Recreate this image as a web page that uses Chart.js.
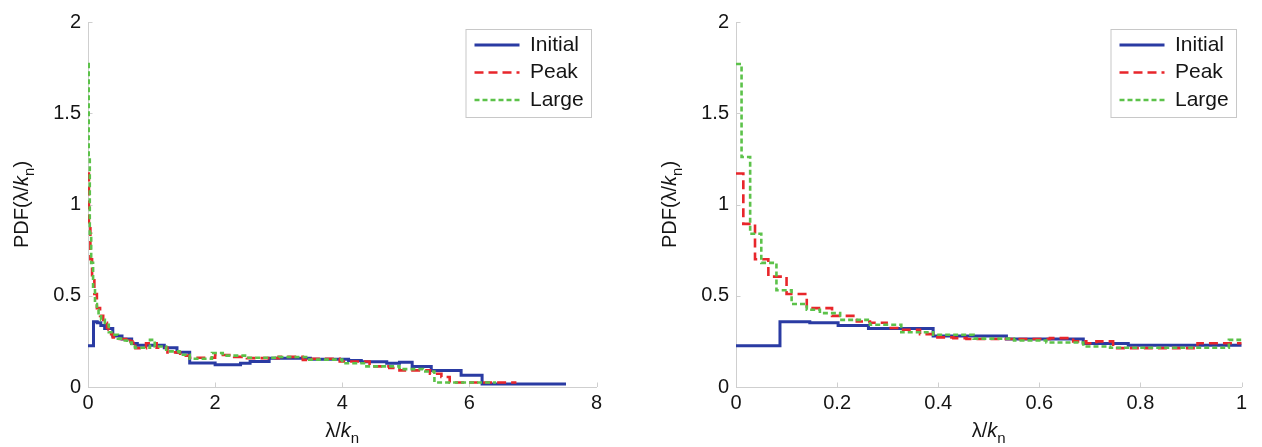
<!DOCTYPE html>
<html>
<head>
<meta charset="utf-8">
<script src="https://cdn.jsdelivr.net/npm/chart.js@4.4.1/dist/chart.umd.min.js"></script>
<style>
    html, body { margin: 0; padding: 0; background: #fff; }
    #wrap { position: relative; width: 1262px; height: 447px; overflow: hidden; }
    canvas { position: absolute; top: 0; }
    #left { left: 0; }
    #right { left: 631px; }
</style>
</head>
<body>
<div id="wrap">
    <canvas id="left" width="631" height="447"></canvas>
    <canvas id="right" width="631" height="447"></canvas>
</div>
<script>
// Histogram steps: bin left edges (x) and heights (y); last point closes the last bin
const initialX = [0, 0.087, 0.146, 0.202, 0.262, 0.39, 0.535, 0.687, 0.776, 1.2, 1.4, 1.6, 2.0, 2.4, 2.55, 2.85, 3.5, 4.1, 4.3, 4.7, 4.9, 5.1, 5.4, 5.87, 6.2, 7.52];
const initialY = [0.226, 0.357, 0.352, 0.337, 0.321, 0.28, 0.263, 0.238, 0.229, 0.215, 0.19, 0.131, 0.122, 0.13, 0.14, 0.158, 0.152, 0.145, 0.138, 0.13, 0.135, 0.113, 0.091, 0.065, 0.016, 0.016];

const peakX = [0, 0.0145, 0.0376, 0.064, 0.1, 0.14, 0.19, 0.239, 0.265, 0.298, 0.324, 0.364, 0.39, 0.43, 0.456, 0.621, 0.667, 0.693, 0.713, 0.746, 0.913, 1.08, 1.25, 1.45, 1.6, 2.0, 2.3, 2.5, 3.0, 3.38, 3.48, 3.96, 4.43, 4.74, 4.9, 5.38, 5.56, 5.69, 6.74];
const peakY = [1.17, 0.894, 0.70, 0.605, 0.51, 0.432, 0.39, 0.359, 0.352, 0.323, 0.314, 0.29, 0.272, 0.268, 0.263, 0.268, 0.25, 0.24, 0.25, 0.213, 0.24, 0.215, 0.19, 0.172, 0.16, 0.175, 0.165, 0.158, 0.165, 0.148, 0.155, 0.14, 0.113, 0.104, 0.091, 0.073, 0.055, 0.025, 0.025];

const largeX = [0, 0.011, 0.028, 0.05, 0.08, 0.11, 0.14, 0.166, 0.206, 0.265, 0.327, 0.39, 0.47, 0.55, 0.614, 0.687, 0.74, 0.975, 1.05, 1.23, 1.44, 1.6, 1.95, 2.12, 2.5, 3.0, 3.48, 4.0, 4.38, 4.9, 5.27, 5.45, 6.42];
const largeY = [1.77, 1.26, 0.84, 0.68, 0.53, 0.455, 0.423, 0.405, 0.368, 0.341, 0.30, 0.286, 0.265, 0.255, 0.244, 0.222, 0.215, 0.258, 0.222, 0.195, 0.177, 0.155, 0.186, 0.172, 0.16, 0.164, 0.15, 0.13, 0.113, 0.098, 0.085, 0.025, 0.025];

const seriesNames = ['Initial', 'Peak', 'Large'];

// Tick values and labels
const yTicks = [0, 0.5, 1, 1.5, 2];
const yLabels = ['0', '0.5', '1', '1.5', '2'];
const leftXTicks = [0, 2, 4, 6, 8];
const leftXLabels = ['0', '2', '4', '6', '8'];
const rightXTicks = [0, 0.2, 0.4, 0.6, 0.8, 1];
const rightXLabels = ['0', '0.2', '0.4', '0.6', '0.8', '1'];

// Axis titles (k italic, n subscript)
const yTitleParts = [{ t: 'PDF(\u03bb/' }, { t: 'k', it: true }, { t: 'n', sub: true }, { t: ')' }];
const xTitleParts = [{ t: '\u03bb/' }, { t: 'k', it: true }, { t: 'n', sub: true }];

const FONT = '"Liberation Sans", Arial, sans-serif';
const TEXT = '#151515';
const AXIS_COLOR = '#cfcfcf';
const TICK_LEN = 4.5;
const FRAME_W = 125.5;

Chart.defaults.font.family = FONT;
Chart.defaults.color = TEXT;

function toPoints(xs, ys) {
    return xs.map((x, i) => ({ x: x, y: ys[i] }));
}

function partFont(p) {
    return (p.it ? 'italic ' : '') + (p.sub ? 15 : 20) + 'px ' + FONT;
}

function drawRich(ctx, parts, cx, baseline) {
    let total = 0;
    parts.forEach(p => { ctx.font = partFont(p); total += ctx.measureText(p.t).width; });
    let x = cx - total / 2;
    parts.forEach(p => {
        ctx.font = partFont(p);
        ctx.fillText(p.t, x, baseline + (p.sub ? 6 : 0));
        x += ctx.measureText(p.t).width;
    });
}

// MATLAB-like extras: inward tick marks, rich axis titles, legend frame
const matlabLook = {
    id: 'matlabLook',
    afterLayout(chart) {
        // put the legend inside the plot, top right
        const lg = chart.legend, a = chart.chartArea;
        const left = a.right - 6 - FRAME_W + 3;
        lg.left = left; lg.right = left + FRAME_W;
        lg.top = 28; lg.bottom = 28 + 200;
        lg.width = FRAME_W; lg.height = 200;
    },
    beforeDatasetsDraw(chart) {
        const { ctx, chartArea: a, scales: { x, y } } = chart;
        ctx.save();
        ctx.strokeStyle = AXIS_COLOR;
        ctx.lineWidth = 1;
        ctx.beginPath();
        x.ticks.forEach(t => {
            const px = Math.round(x.getPixelForValue(t.value)) + 0.5;
            ctx.moveTo(px, a.bottom);
            ctx.lineTo(px, a.bottom - TICK_LEN);
        });
        y.ticks.forEach(t => {
            const py = Math.round(y.getPixelForValue(t.value)) + 0.5;
            ctx.moveTo(a.left, py);
            ctx.lineTo(a.left + TICK_LEN, py);
        });
        ctx.stroke();

        // legend frame
        const fr = Math.round(a.right - 6) + 0.5;
        ctx.strokeStyle = '#c8c8c8';
        ctx.strokeRect(fr - FRAME_W, 29.5, FRAME_W, 88);

        // axis titles
        ctx.fillStyle = TEXT;
        ctx.textBaseline = 'alphabetic';
        ctx.textAlign = 'left';
        drawRich(ctx, xTitleParts, (a.left + a.right) / 2, a.bottom + 49.7);
        ctx.translate(a.left - 60, (a.top + a.bottom) / 2);
        ctx.rotate(-Math.PI / 2);
        drawRich(ctx, yTitleParts, 0, 0);
        ctx.restore();
    }
};

function makeChart(id, xMax, xTicks, xLabels, yAxisWidth, rightPad) {
    const ctx = document.getElementById(id).getContext('2d');
    return new Chart(ctx, {
        type: 'line',
        data: {
            datasets: [
                {
                    label: seriesNames[0],
                    data: toPoints(initialX, initialY),
                    borderColor: '#2a3ba3',
                    borderWidth: 3,
                    borderDash: [],
                    order: 3
                },
                {
                    label: seriesNames[1],
                    data: toPoints(peakX, peakY),
                    borderColor: '#e8262b',
                    borderWidth: 2.6,
                    borderDash: [9, 5],
                    order: 2
                },
                {
                    label: seriesNames[2],
                    data: toPoints(largeX, largeY),
                    borderColor: '#5cc24a',
                    borderWidth: 2.6,
                    borderDash: [5, 3],
                    order: 1
                }
            ].map(ds => Object.assign(ds, {
                // horizontal run at each bin height, then the vertical jump
                stepped: 'before',
                pointRadius: 0,
                fill: false,
                tension: 0,
                borderJoinStyle: 'miter'
            }))
        },
        options: {
            responsive: false,
            animation: false,
            devicePixelRatio: 1,
            layout: { padding: { left: 0, top: 22, right: rightPad, bottom: 0 } },
            plugins: {
                tooltip: { enabled: false },
                legend: {
                    position: 'chartArea',
                    align: 'start',
                    labels: {
                        usePointStyle: true,
                        pointStyleWidth: 45,
                        padding: 6.5,
                        color: TEXT,
                        font: { size: 21 },
                        generateLabels: chart => chart.data.datasets.map((ds, i) => ({
                            text: ds.label,
                            fillStyle: ds.borderColor,
                            strokeStyle: ds.borderColor,
                            fontColor: TEXT,
                            lineWidth: ds.borderWidth,
                            lineDash: ds.borderDash,
                            pointStyle: 'line',
                            hidden: false,
                            datasetIndex: i
                        }))
                    }
                }
            },
            scales: {
                x: {
                    type: 'linear',
                    min: 0,
                    max: xMax,
                    grid: { display: false, drawTicks: false },
                    border: { display: true, color: AXIS_COLOR, width: 1 },
                    ticks: {
                        padding: 4,
                        color: TEXT,
                        font: { size: 20 },
                        autoSkip: false,
                        maxRotation: 0,
                        callback: (v, i) => xLabels[i]
                    },
                    afterBuildTicks: s => { s.ticks = xTicks.map(v => ({ value: v })); },
                    afterFit: s => { s.height = 60; }
                },
                y: {
                    type: 'linear',
                    min: 0,
                    max: 2,
                    grid: { display: false, drawTicks: false },
                    border: { display: true, color: AXIS_COLOR, width: 1 },
                    ticks: {
                        padding: 7,
                        color: TEXT,
                        font: { size: 20 },
                        autoSkip: false,
                        callback: (v, i) => yLabels[i]
                    },
                    afterBuildTicks: s => { s.ticks = yTicks.map(v => ({ value: v })); },
                    afterFit: s => { s.width = yAxisWidth; }
                }
            }
        },
        plugins: [matlabLook]
    });
}

makeChart('left', 8, leftXTicks, leftXLabels, 88, 34.5);
makeChart('right', 1, rightXTicks, rightXLabels, 105, 20.5);
</script>
</body>
</html>
